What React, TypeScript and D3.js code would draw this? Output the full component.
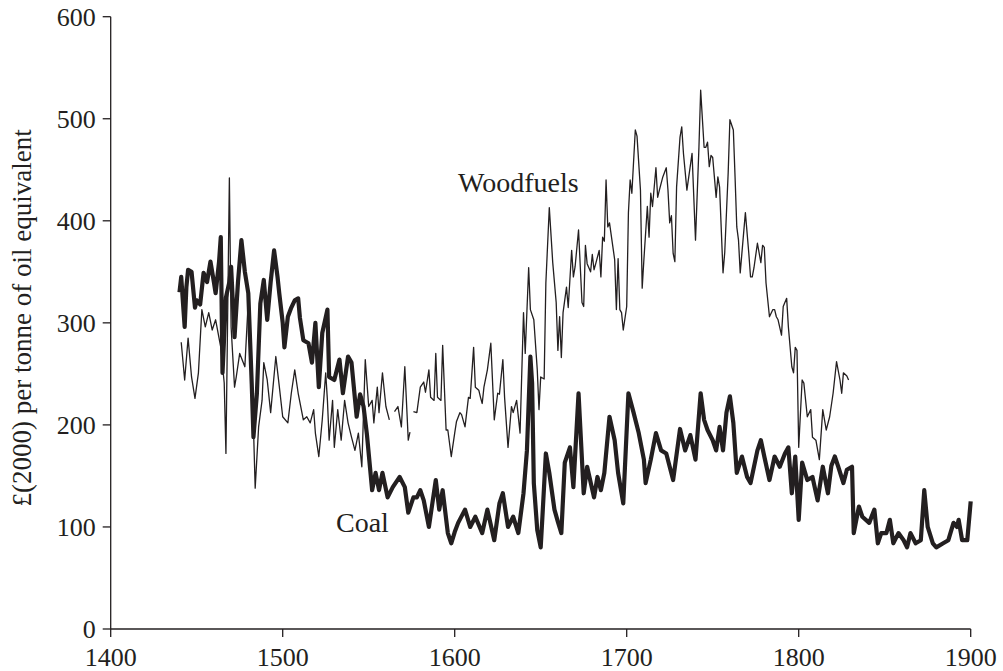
import * as d3 from "d3";

// year, £(2000) per toe
const coal: [number, number][] = [
  [1440, 330], [1441, 345], [1442, 320], [1443, 296], [1444, 335], [1445, 352], [1447, 350], [1449, 315],
  [1450, 322], [1452, 318], [1454, 349], [1456, 340], [1458, 360], [1460, 340], [1461, 329], [1463, 360],
  [1464, 384], [1465, 251], [1467, 325], [1469, 340], [1470, 355], [1472, 286], [1474, 340], [1476, 381],
  [1478, 350], [1480, 329], [1482, 240], [1483, 188], [1485, 231], [1487, 319], [1489, 342], [1491, 303],
  [1493, 340], [1495, 371], [1497, 345], [1498, 329], [1500, 300], [1501, 276], [1503, 306], [1505, 315],
  [1507, 322], [1509, 324], [1510, 305], [1512, 283], [1515, 280], [1517, 261], [1519, 300], [1521, 237],
  [1523, 290], [1526, 313], [1527, 247], [1530, 244], [1533, 264], [1535, 231], [1538, 267], [1540, 261],
  [1543, 208], [1545, 230], [1547, 218], [1549, 190], [1550, 172], [1552, 136], [1554, 153], [1556, 136],
  [1558, 153], [1561, 129], [1564, 139], [1568, 149], [1571, 139], [1573, 114], [1576, 129], [1578, 129],
  [1580, 136], [1582, 126], [1585, 100], [1589, 146], [1591, 117], [1593, 136], [1596, 94], [1598, 84],
  [1600, 95], [1602, 104], [1606, 117], [1609, 100], [1612, 110], [1616, 94], [1619, 117], [1623, 87],
  [1626, 123], [1628, 133], [1631, 100], [1634, 110], [1637, 94], [1640, 133], [1642, 175], [1644, 267],
  [1645, 241], [1646, 143], [1648, 97], [1650, 80], [1651, 110], [1653, 172], [1655, 153], [1658, 117],
  [1660, 105], [1662, 94], [1664, 163], [1667, 178], [1669, 139], [1672, 231], [1675, 133], [1677, 159],
  [1681, 129], [1683, 149], [1685, 136], [1687, 153], [1690, 208], [1693, 185], [1695, 153], [1698, 123],
  [1701, 231], [1704, 212], [1707, 192], [1710, 166], [1711, 143], [1714, 166], [1717, 192], [1720, 175],
  [1723, 172], [1727, 146], [1731, 196], [1734, 175], [1737, 190], [1740, 166], [1743, 231], [1745, 205],
  [1747, 195], [1750, 185], [1752, 175], [1754, 198], [1756, 175], [1758, 212], [1760, 228], [1762, 202],
  [1764, 153], [1767, 169], [1770, 149], [1772, 143], [1776, 175], [1778, 185], [1780, 169], [1783, 146],
  [1786, 169], [1789, 159], [1792, 172], [1794, 178], [1796, 133], [1798, 169], [1800, 107], [1802, 163],
  [1805, 146], [1808, 149], [1811, 126], [1814, 159], [1817, 133], [1819, 160], [1821, 169], [1823, 159],
  [1826, 143], [1828, 156], [1831, 159], [1832, 94], [1835, 120], [1837, 110], [1841, 104], [1844, 117],
  [1846, 84], [1848, 94], [1851, 94], [1853, 107], [1855, 84], [1858, 94], [1861, 87], [1863, 80],
  [1865, 94], [1868, 84], [1871, 87], [1873, 136], [1875, 100], [1878, 84], [1880, 80], [1884, 84],
  [1887, 87], [1890, 104], [1892, 100], [1893, 107], [1895, 87], [1898, 87], [1900, 125],
];

// null = break in the woodfuel series
const woodfuels: [number, number | null][] = [
  [1441, 281], [1443, 244], [1445, 285], [1447, 247], [1449, 226], [1451, 251], [1453, 313], [1455, 296],
  [1457, 310], [1459, 293], [1461, 303], [1464, 276], [1466, 241], [1467, 172], [1469, 442], [1470, 296],
  [1472, 237], [1473, 247], [1475, 270], [1478, 257], [1480, 322], [1483, 198], [1484, 138], [1486, 198],
  [1488, 224], [1489, 261], [1491, 244], [1493, 212], [1496, 267], [1498, 238], [1500, 208], [1503, 202],
  [1505, 231], [1507, 254], [1509, 231], [1512, 205], [1514, 208], [1516, 202], [1518, 215], [1519, 192],
  [1521, 169], [1523, 205], [1525, 251], [1526, 224], [1527, 185], [1529, 224], [1530, 178], [1532, 215],
  [1534, 185], [1536, 224], [1538, 202], [1540, 188], [1542, 175], [1544, 192], [1546, 159], [1548, 264],
  [1550, 218], [1552, 224], [1553, 202], [1555, 237], [1556, 212], [1558, 251], [1560, 218], [1562, 205],
  [1563, null], [1565, 213], [1567, 218], [1569, 198], [1571, 257], [1573, 185], [1574, 193], [1575, null],
  [1576, 213], [1578, 212], [1580, 237], [1582, 242], [1583, 232], [1585, 254], [1586, 227], [1588, 224],
  [1589, 270], [1590, 227], [1592, 224], [1593, 278], [1595, 195], [1596, 195], [1598, 169], [1600, 192],
  [1601, 203], [1603, 212], [1604, 210], [1606, 198], [1608, 227], [1609, 226], [1611, 276], [1612, 237],
  [1614, 234], [1615, 227], [1616, 221], [1617, 237], [1619, 254], [1621, 280], [1623, 205], [1625, 231],
  [1626, 230], [1628, 264], [1629, 227], [1631, 178], [1633, 218], [1634, 212], [1636, 224], [1638, 192],
  [1640, 310], [1641, 270], [1643, 354], [1644, 313], [1646, 303], [1648, 254], [1649, 215], [1650, 247],
  [1652, 245], [1653, 339], [1655, 413], [1657, 359], [1659, 320], [1660, 273], [1661, 306], [1662, 266],
  [1663, 310], [1665, 335], [1666, 315], [1668, 371], [1669, 345], [1670, 355], [1672, 391], [1674, 320],
  [1675, 316], [1676, 376], [1677, 358], [1679, 350], [1680, 367], [1681, 352], [1682, 358], [1684, 371],
  [1685, 345], [1686, 384], [1687, 380], [1688, 440], [1689, 394], [1690, 398], [1693, 362], [1694, 313],
  [1695, 363], [1696, 313], [1697, 310], [1698, 293], [1700, 316], [1701, 408], [1702, 440], [1703, 427],
  [1705, 489], [1706, 483], [1708, 430], [1709, 334], [1710, 362], [1712, 414], [1713, 384], [1714, 427],
  [1715, 414], [1717, 452], [1718, 423], [1719, 430], [1721, 443], [1723, 452], [1724, 430], [1725, 398],
  [1726, 405], [1727, 368], [1728, 360], [1729, 433], [1731, 482], [1732, 492], [1733, 466], [1735, 430],
  [1738, 466], [1740, 381], [1742, 472], [1743, 528], [1745, 472], [1746, 472], [1747, 477], [1748, 453],
  [1749, 464], [1750, 462], [1752, 423], [1753, 443], [1754, 433], [1756, 349], [1757, 369], [1759, 447],
  [1760, 499], [1762, 489], [1763, 443], [1764, 394], [1765, 381], [1766, 349], [1769, 408], [1771, 368],
  [1772, 345], [1773, 345], [1774, 354], [1776, 378], [1778, 359], [1779, 376], [1780, 374], [1781, 339],
  [1783, 306], [1785, 313], [1786, 313], [1787, 306], [1788, 303], [1790, 288], [1791, 316], [1793, 324],
  [1794, 296], [1796, 257], [1797, 251], [1798, 276], [1799, 273], [1800, 178], [1802, 244], [1803, 241],
  [1805, 208], [1807, 215], [1808, 188], [1810, 185], [1812, 166], [1814, 215], [1816, 195], [1818, 208],
  [1820, 231], [1822, 262], [1824, 244], [1825, 231], [1826, 251], [1828, 248], [1829, 244],
];

const xTicks = [1400, 1500, 1600, 1700, 1800, 1900];
const yTicks = [0, 100, 200, 300, 400, 500, 600];
const yTitle = "£(2000) per tonne of oil equivalent";

const width = 1003;
const height = 671;
const ink = "#231f20";
const font = "'Liberation Serif', 'Times New Roman', serif";

export default function App() {
  const x = d3.scaleLinear().domain([1400, 1900]).range([110.7, 970.7]);
  const y = d3.scaleLinear().domain([0, 600]).range([629, 16.7]);

  const coalLine = d3
    .line<[number, number]>()
    .x((d) => x(d[0]))
    .y((d) => y(d[1]));

  const woodLine = d3
    .line<[number, number | null]>()
    .defined((d) => d[1] !== null)
    .x((d) => x(d[0]))
    .y((d) => y(d[1] as number));

  return (
    <svg
      width={width}
      height={height}
      style={{ position: "absolute", left: 0, top: 0, background: "#fff" }}
      fontFamily={font}
    >
      {/* y axis */}
      <line x1={x(1400)} x2={x(1400)} y1={y(600)} y2={y(0)} stroke={ink} strokeWidth={1.3} />
      {yTicks.map((t) => (
        <g key={t}>
          <line x1={x(1400) - 8} x2={x(1400)} y1={y(t)} y2={y(t)} stroke={ink} strokeWidth={1.3} />
          <text x={x(1400) - 15} y={y(t)} dy="0.34em" textAnchor="end" fontSize={26} fill={ink}>
            {t}
          </text>
        </g>
      ))}

      {/* x axis */}
      <line x1={x(1400)} x2={x(1900)} y1={y(0)} y2={y(0)} stroke={ink} strokeWidth={1.3} />
      {xTicks.map((t) => (
        <g key={t}>
          <line x1={x(t)} x2={x(t)} y1={y(0)} y2={y(0) + 8} stroke={ink} strokeWidth={1.3} />
          <text x={x(t)} y={666} textAnchor="middle" fontSize={26} fill={ink}>
            {t}
          </text>
        </g>
      ))}

      <text
        transform={`translate(31,${(y(0) + y(600)) / 2 - 5}) rotate(-90)`}
        textAnchor="middle"
        fontSize={27}
        fill={ink}
      >
        {yTitle}
      </text>

      <path d={woodLine(woodfuels) ?? ""} fill="none" stroke={ink} strokeWidth={1.3} strokeLinejoin="round" />
      <path d={coalLine(coal) ?? ""} fill="none" stroke={ink} strokeWidth={4.2} strokeLinejoin="round" />

      <text x={458} y={192} fontSize={28} fill={ink}>
        Woodfuels
      </text>
      <text x={336} y={532} fontSize={28} fill={ink}>
        Coal
      </text>
    </svg>
  );
}
